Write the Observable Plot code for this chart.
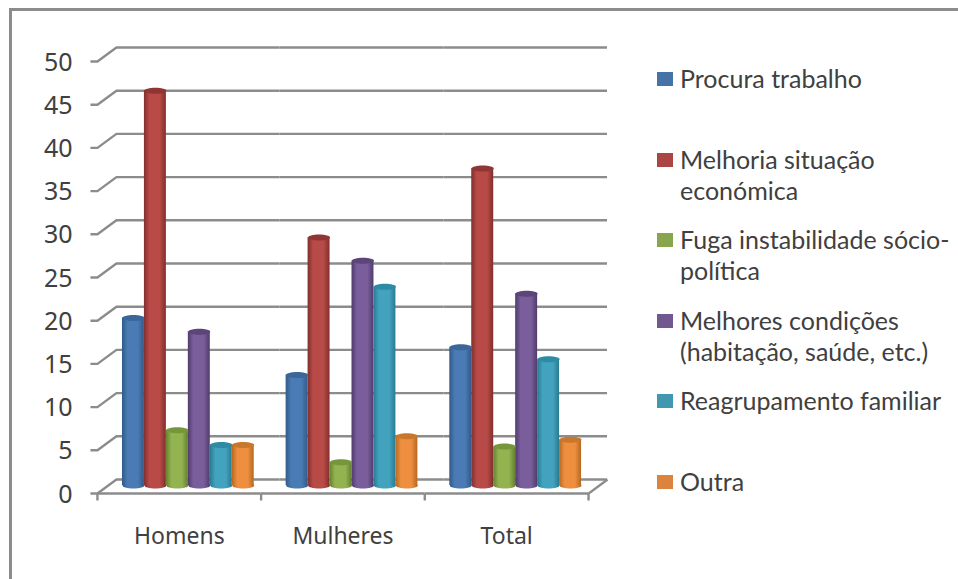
<!DOCTYPE html>
<html lang="pt">
<head>
<meta charset="utf-8">
<script src="https://cdn.jsdelivr.net/npm/d3@7"></script>
<script src="https://cdn.jsdelivr.net/npm/@observablehq/plot@0.6"></script>
<style>
  html, body { margin: 0; padding: 0; background: #fff; }
  #chart { position: relative; width: 958px; height: 579px; overflow: hidden; font-family: Lato, sans-serif; color: #404040; }
  #chart svg { position: absolute; left: 0; top: 0; }
  #border { position: absolute; left: 9px; top: 8px; width: 960px; height: 600px; border: 3px solid #8c8c8c; box-sizing: border-box; }
  .entry { position: absolute; left: 680px; width: 275px; font-size: 25px; line-height: 31px; white-space: nowrap; }
  .entry i { position: absolute; left: -23px; top: 9px; width: 16px; height: 14px; }
</style>
</head>
<body>
<div id="chart"><div id="border"></div></div>
<script>
const groups = ["Homens", "Mulheres", "Total"];
const motives = [
  "Procura trabalho",
  "Melhoria situação económica",
  "Fuga instabilidade sócio-política",
  "Melhores condições (habitação, saúde, etc.)",
  "Reagrupamento familiar",
  "Outra"
];
const legendLines = [
  ["Procura trabalho"],
  ["Melhoria situação", "económica"],
  ["Fuga instabilidade sócio-", "política"],
  ["Melhores condições", "(habitação, saúde, etc.)"],
  ["Reagrupamento familiar"],
  ["Outra"]
];
const homens   = [19.4, 45.7, 6.4, 17.8, 4.7, 4.7];
const mulheres = [12.8, 28.7, 2.7, 26, 23, 5.7];
const total    = [16, 36.7, 4.5, 22.2, 14.6, 5.3];
const yTicks = [0, 5, 10, 15, 20, 25, 30, 35, 40, 45, 50];

// Cylinder shading: dark edge, mid tone, dark edge; the cap takes the shadow tone.
const shades = [
  {id: "c0", key: "#4573a7", edge: "#315a88", mid: "#4a7bb5", cap: "#3a669a"},
  {id: "c1", key: "#aa4644", edge: "#802f2d", mid: "#b84a47", cap: "#8f3634"},
  {id: "c2", key: "#89a54e", edge: "#66802f", mid: "#93b350", cap: "#76963b"},
  {id: "c3", key: "#71588f", edge: "#503b6d", mid: "#795e9b", cap: "#5c4579"},
  {id: "c4", key: "#4198af", edge: "#287a90", mid: "#43a3bf", cap: "#2f8aa4"},
  {id: "c5", key: "#db843d", edge: "#b56820", mid: "#ee8f40", cap: "#c9772c"}
];
const grey = "#8c8c8c";

const rows = groups.flatMap((group, g) =>
  motives.map((motive, m) => ({group, motive, m, value: [homens, mulheres, total][g][m]}))
);

// d3-path has no ellipse command, so the cap is built from four Béziers.
function ellipseSymbol(rx, ry) {
  const k = 0.5523;
  return {
    draw(c) {
      c.moveTo(-rx, 0);
      c.bezierCurveTo(-rx, -k * ry, -k * rx, -ry, 0, -ry);
      c.bezierCurveTo(k * rx, -ry, rx, -k * ry, rx, 0);
      c.bezierCurveTo(rx, k * ry, k * rx, ry, 0, ry);
      c.bezierCurveTo(-k * rx, ry, -rx, k * ry, -rx, 0);
      c.closePath();
    }
  };
}
// Tick on the front plane plus the diagonal running back along the side wall.
const wallTick = {
  draw(c) {
    c.moveTo(-7, 0); c.lineTo(0, 0); c.lineTo(19, -14);
  }
};
const floorTick = {
  draw(c) {
    c.moveTo(0, 0); c.lineTo(0, 7);
  }
};
const floorDiagonal = {
  draw(c) {
    c.moveTo(0, 7); c.lineTo(0, 0); c.lineTo(19, -14);
  }
};

const first = motives[0], last = motives[5];
const line = {stroke: grey, strokeWidth: 2.4};
const cylinderEnd = ellipseSymbol(11, 3);

const plot = Plot.plot({
  width: 958, height: 579,
  marginLeft: 106, marginRight: 361, marginTop: 53, marginBottom: 94,
  fx: {domain: groups, padding: 0, round: false, axis: null},
  x: {domain: motives, paddingInner: 0, paddingOuter: 0.727, round: false, axis: null},
  y: {domain: [0, 50], axis: null},
  style: {background: "transparent", overflow: "visible"},
  marks: [
    // back wall gridlines and the floor's front edge
    Plot.ruleY(yTicks, {...line, dx: 10, dy: -6}),
    Plot.ruleY([0], {...line, dx: -9, dy: 8}),
    // front value axis and side wall
    Plot.ruleX([first], {fx: () => groups[0], x: first, y1: 0, y2: 50, ...line, dx: -36, dy: 8}),
    Plot.dot(yTicks, {fx: () => groups[0], x: () => first, y: d => d, symbol: wallTick, r: 4, fill: "none", ...line, dx: -36, dy: 8}),
    // category separators along the floor
    Plot.dot(groups, {fx: d => d, x: () => first, y: () => 0, symbol: floorTick, r: 4, fill: "none", ...line, dx: -36, dy: 8}),
    Plot.dot(["Total"], {fx: d => d, x: () => last, y: () => 0, symbol: floorDiagonal, r: 4, fill: "none", ...line, dx: 18, dy: 8}),
    // cylinders: base ellipse, body, cap
    Plot.dot(rows, {fx: "group", x: "motive", y: () => 0, symbol: cylinderEnd, r: 4,
      fill: {value: d => `url(#${shades[d.m].id})`, scale: null}}),
    Plot.barY(rows, {fx: "group", x: "motive", y: "value",
      fill: {value: d => `url(#${shades[d.m].id})`, scale: null}}),
    Plot.dot(rows, {fx: "group", x: "motive", y: "value", symbol: cylinderEnd, r: 4,
      fill: {value: d => shades[d.m].cap, scale: null}}),
    // axis labels
    Plot.axisY({ticks: yTicks, tickSize: 0, tickPadding: 34, dy: 9, fontSize: 25, label: null, fill: "#404040"}),
    Plot.axisFx({anchor: "bottom", tickSize: 0, tickPadding: 42, dx: -9, fontSize: 23, label: null, fill: "#404040"})
  ]
});

const defs = d3.select(plot).append("defs");
for (const s of shades) {
  const g = defs.append("linearGradient").attr("id", s.id);
  [[0, s.edge], [0.25, s.mid], [0.72, s.mid], [1, s.edge]].forEach(([o, c]) =>
    g.append("stop").attr("offset", o).attr("stop-color", c));
}

const chart = document.getElementById("chart");
chart.appendChild(plot);

legendLines.forEach((lines, i) => {
  const entry = document.createElement("div");
  entry.className = "entry";
  entry.style.top = (63 + i * 80.6) + "px";
  entry.innerHTML = `<i style="background:${shades[i].key}"></i>` + lines.join("<br>");
  chart.appendChild(entry);
});
</script>
</body>
</html>
